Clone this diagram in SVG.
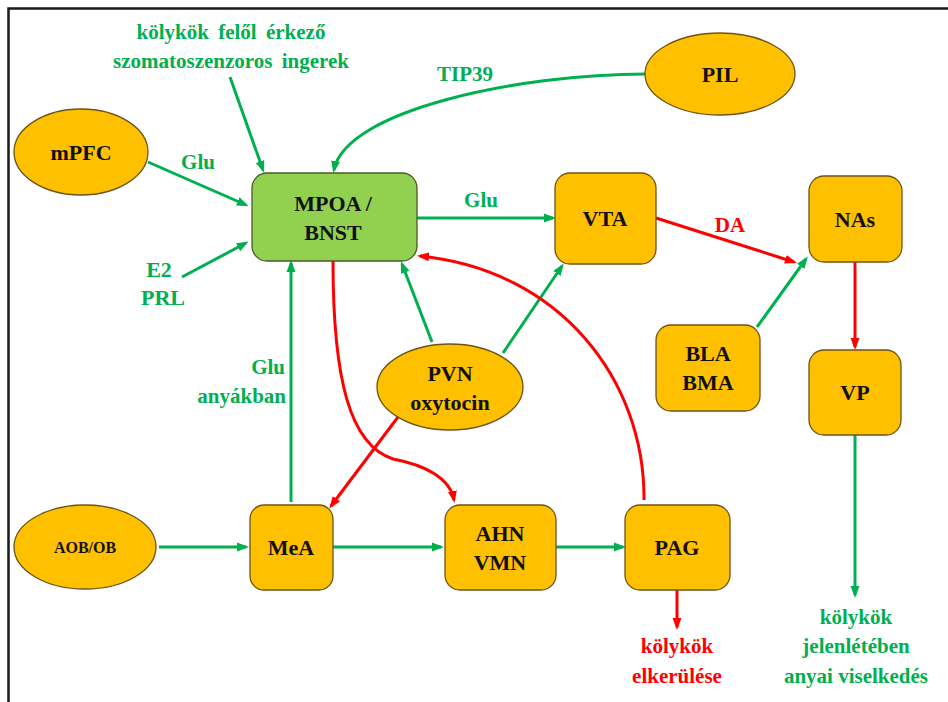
<svg xmlns="http://www.w3.org/2000/svg" width="948" height="702" viewBox="0 0 948 702" font-family="Liberation Serif, Times New Roman, serif" font-weight="bold">
<style>
.bg{fill:#fff}
.frame{fill:none;stroke:#1a1a1a;stroke-width:2.5}
.node{fill:#FFC000;stroke:#6b5416;stroke-width:1.3}
.mp{fill:#92D050;stroke:#4a5a2a;stroke-width:1.3}
.t{fill:#111;text-anchor:middle}
.lg{fill:#00B050}
.lr{fill:#FF0000}
.g{fill:none;stroke:#00B050;stroke-width:3}
.r{fill:none;stroke:#FF0000;stroke-width:3}
</style>
<defs>
<marker id="ag" markerWidth="12" markerHeight="10" refX="9" refY="5" orient="auto" markerUnits="userSpaceOnUse"><path d="M0,0.5 L12,5 L0,9.5 Z" fill="#00B050"/></marker>
<marker id="ar" markerWidth="12" markerHeight="10" refX="9" refY="5" orient="auto" markerUnits="userSpaceOnUse"><path d="M0,0.5 L12,5 L0,9.5 Z" fill="#FF0000"/></marker>
</defs>
<rect class="bg" x="0" y="0" width="948" height="702"/>
<path class="frame" d="M8.5,702 L8.5,8.5 L948,8.5"/>

<g id="connectors">
<line class="g" x1="230" y1="77" x2="263" y2="170" marker-end="url(#ag)"/>
<line class="g" x1="148" y1="162" x2="246" y2="205" marker-end="url(#ag)"/>
<line class="g" x1="182" y1="277" x2="246" y2="243" marker-end="url(#ag)"/>
<path class="g" d="M646,74 C520,74 345,110 334,170" marker-end="url(#ag)"/>
<line class="g" x1="417" y1="218" x2="553" y2="218" marker-end="url(#ag)"/>
<path class="r" d="M656,218 L794,262" marker-end="url(#ar)"/>
<line class="g" x1="757" y1="327" x2="806" y2="259" marker-end="url(#ag)"/>
<line class="r" x1="855" y1="262" x2="855" y2="347" marker-end="url(#ar)"/>
<line class="g" x1="855" y1="435" x2="855" y2="595" marker-end="url(#ag)"/>
<line class="r" x1="677" y1="590" x2="677" y2="627" marker-end="url(#ar)"/>
<line class="g" x1="159" y1="547" x2="246" y2="547" marker-end="url(#ag)"/>
<line class="g" x1="333" y1="547" x2="441" y2="547" marker-end="url(#ag)"/>
<line class="g" x1="556" y1="547" x2="623" y2="547" marker-end="url(#ag)"/>
<line class="g" x1="291" y1="502" x2="291" y2="263" marker-end="url(#ag)"/>
<line class="g" x1="432" y1="342" x2="402" y2="264" marker-end="url(#ag)"/>
<line class="g" x1="503" y1="353" x2="562" y2="266" marker-end="url(#ag)"/>
<line class="r" x1="398" y1="417" x2="331" y2="506" marker-end="url(#ar)"/>
<path class="r" d="M333,261 C333,380 350,445 393,459 C425,465 450,478 454,500" marker-end="url(#ar)"/>
<path class="r" d="M644,500 C645,380 560,270 420,256" marker-end="url(#ar)"/>
</g>

<g id="labels">
<text class="lg" x="231" y="39" font-size="21" text-anchor="middle" word-spacing="4">kölykök felől érkező</text>
<text class="lg" x="231" y="68" font-size="21" text-anchor="middle" word-spacing="4">szomatoszenzoros ingerek</text>
<text class="lg" x="465" y="81" font-size="21" text-anchor="middle">TIP39</text>
<text class="lg" x="198" y="169" font-size="21" text-anchor="middle">Glu</text>
<text class="lg" x="481" y="207" font-size="21" text-anchor="middle">Glu</text>
<text class="lr" x="730" y="232" font-size="21" text-anchor="middle">DA</text>
<text class="lg" x="159" y="277" font-size="22" text-anchor="middle">E2</text>
<text class="lg" x="163" y="305" font-size="22" text-anchor="middle">PRL</text>
<text class="lg" x="285" y="374" font-size="21" text-anchor="end">Glu</text>
<text class="lg" x="286" y="403" font-size="21" text-anchor="end">anyákban</text>
<text class="lr" x="677" y="653" font-size="21" text-anchor="middle">kölykök</text>
<text class="lr" x="677" y="683" font-size="21" text-anchor="middle">elkerülése</text>
<text class="lg" x="856" y="624" font-size="21" text-anchor="middle">kölykök</text>
<text class="lg" x="856" y="653" font-size="21" text-anchor="middle">jelenlétében</text>
<text class="lg" x="856" y="683" font-size="21" text-anchor="middle">anyai viselkedés</text>
</g>

<g id="mPFC"><ellipse class="node" cx="81" cy="152" rx="67" ry="43"/><text class="t" x="81" y="160" font-size="22">mPFC</text></g>
<g id="PIL"><ellipse class="node" cx="720" cy="74" rx="75" ry="41"/><text class="t" x="720" y="82" font-size="22">PIL</text></g>
<g id="MPOA"><rect class="mp" x="252" y="173" width="165" height="88" rx="15"/><text class="t" x="333" y="211" font-size="22">MPOA /</text><text class="t" x="333" y="240" font-size="22">BNST</text></g>
<g id="VTA"><rect class="node" x="555" y="173" width="101" height="91" rx="15"/><text class="t" x="605" y="226" font-size="22">VTA</text></g>
<g id="NAs"><rect class="node" x="809" y="176" width="93" height="86" rx="15"/><text class="t" x="855" y="227" font-size="22">NAs</text></g>
<g id="BLA"><rect class="node" x="656" y="325" width="104" height="86" rx="15"/><text class="t" x="708" y="361" font-size="22">BLA</text><text class="t" x="708" y="390" font-size="22">BMA</text></g>
<g id="VP"><rect class="node" x="809" y="350" width="92" height="85" rx="15"/><text class="t" x="855" y="400" font-size="22">VP</text></g>
<g id="PVN"><ellipse class="node" cx="450" cy="387" rx="73" ry="43"/><text class="t" x="450" y="381" font-size="22">PVN</text><text class="t" x="450" y="410" font-size="22">oxytocin</text></g>
<g id="AOB"><ellipse class="node" cx="85" cy="547" rx="71" ry="42"/><text class="t" x="85" y="553" font-size="16">AOB/OB</text></g>
<g id="MeA"><rect class="node" x="250" y="505" width="83" height="85" rx="14"/><text class="t" x="291" y="555" font-size="22">MeA</text></g>
<g id="AHN"><rect class="node" x="445" y="505" width="111" height="85" rx="15"/><text class="t" x="500" y="541" font-size="22">AHN</text><text class="t" x="500" y="570" font-size="22">VMN</text></g>
<g id="PAG"><rect class="node" x="625" y="505" width="105" height="85" rx="15"/><text class="t" x="677" y="555" font-size="22">PAG</text></g>
</svg>
